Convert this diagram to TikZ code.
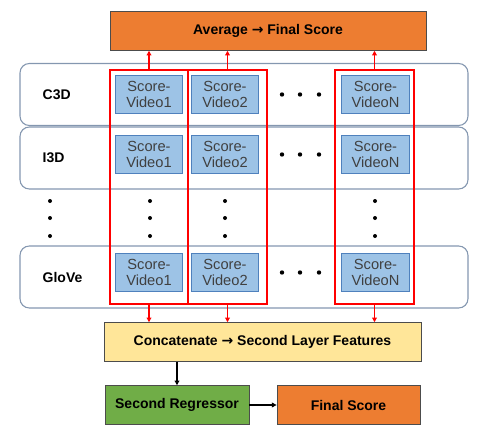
\documentclass[tikz,border=0pt]{standalone}
\usepackage{fontspec}
\setmainfont{Liberation Sans}
\newfontfamily\arrowfont{DejaVu Sans}
\usetikzlibrary{arrows.meta}
\definecolor{avgorange}{HTML}{ED7D31}
\definecolor{concatyellow}{HTML}{FFE699}
\definecolor{reggreen}{HTML}{70AD47}
\definecolor{scoreblue}{HTML}{9DC3E6}
\definecolor{scoreedge}{HTML}{4F81BD}
\definecolor{rowedge}{HTML}{8497B0}
\definecolor{textgray}{HTML}{404040}
\newcommand{\toarrow}{{\arrowfont\bfseries →}}

\begin{document}
\begin{tikzpicture}[x=0.75pt,y=-0.75pt,
    rowbox/.style={draw=rowedge, line width=0.8pt, rounded corners=7pt,
        minimum width=336pt, minimum height=46.5pt},
    scorebox/.style={draw=scoreedge, fill=scoreblue, line width=0.6pt,
        minimum width=50pt, minimum height=29pt, inner sep=0pt,
        align=center, font=\fontsize{11}{12.5}\selectfont, text=textgray},
    redcol/.style={draw=red, line width=1.4pt, minimum height=175.5pt},
    stagebox/.style={draw=black!70, line width=0.6pt, minimum height=29pt,
        font=\fontsize{10.5}{12}\selectfont\bfseries},
    rowlabel/.style={anchor=west, font=\fontsize{10.5}{12}\selectfont\bfseries},
    redarrow/.style={draw=red, line width=1pt, -{Triangle[length=3.5pt,width=3.5pt]}},
    blackarrow/.style={draw=black, line width=1pt, -{Triangle[length=3.5pt,width=3.5pt]}}]
    \useasboundingbox (0,0) rectangle (494,432);
    % Top box
    \node[stagebox, fill=avgorange, minimum width=237pt] (avg) at (268,31)
        {Average \toarrow{} Final Score};
    % Rows of features
    \foreach \y/\name/\label in {94.5/c3d/C3D, 158/i3d/I3D, 277/glove/GloVe} {
        \node[rowbox] (row\name) at (244,\y) {};
        \node[rowlabel] (lab\name) at (38,\y) {\label};
    }
    % Score boxes
    \foreach \y/\name in {94.5/c3d, 154.5/i3d, 272.5/glove} {
        \node[scorebox] (s1\name) at (149,\y) {Score-\\Video1};
        \node[scorebox] (s2\name) at (225,\y) {Score-\\Video2};
        \node[scorebox, minimum width=51.5pt] (sN\name) at (375.5,\y) {Score-\\VideoN};
        \foreach \x in {282,300,319}
            \fill (\x,\y) circle (2.2);
    }
    % Vertical dots
    \foreach \x in {50,150,225,375} {
        \foreach \y in {201,218,236}
            \fill (\x,\y) circle (2);
    }
    % Red columns
    \node[redcol, minimum width=58.5pt] (col1) at (149,187) {};
    \node[redcol, minimum width=59pt] (col2) at (227.5,187) {};
    \node[redcol, minimum width=59pt] (colN) at (374.5,187) {};
    % Second layer
    \node[stagebox, fill=concatyellow, minimum width=237.75pt] (concat) at (262.5,342)
        {Concatenate \toarrow{} Second Layer Features};
    \node[stagebox, fill=reggreen, minimum width=108pt] (reg) at (177,405)
        {Second Regressor};
    \node[stagebox, fill=avgorange, minimum width=107.25pt] (final) at (348.5,405)
        {Final Score};
    % Arrows
    \foreach \c in {col1,col2,colN} {
        \draw[redarrow] (\c.north) -- (\c.north |- avg.south);
        \draw[redarrow] (\c.south) -- (\c.south |- concat.north);
    }
    \draw[blackarrow] (reg.north |- concat.south) -- (reg.north);
    \draw[blackarrow] (reg.east) -- (final.west);
\end{tikzpicture}
\end{document}
